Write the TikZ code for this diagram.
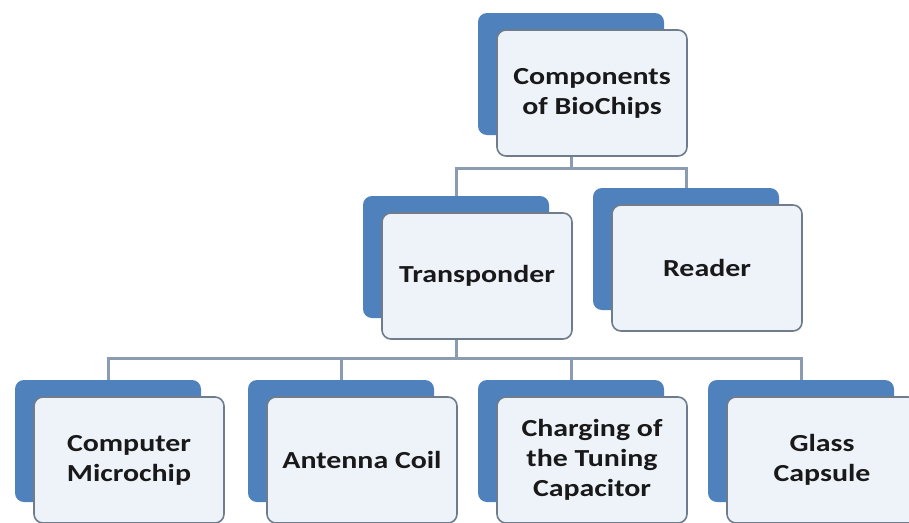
\documentclass[tikz,border=0pt]{standalone}
\usepackage{fontspec}
\setmainfont{Carlito}[FakeStretch=1.22]
\usetikzlibrary{backgrounds}
\definecolor{smartblue}{HTML}{4F81BD}
\definecolor{boxfill}{HTML}{EEF3FA}
\definecolor{boxline}{HTML}{6E7C8C}
\definecolor{linkgray}{HTML}{8A9BB2}
\tikzset{
  back/.style={fill=smartblue, rounded corners=9pt, minimum width=186pt, minimum height=122pt, inner sep=0pt},
  front/.style={draw=boxline, line width=1.6pt, fill=boxfill, rounded corners=9pt, minimum width=190pt,
    minimum height=126pt, inner sep=0pt, align=center, text=black!90,
    font=\bfseries\fontsize{24.5}{30}\selectfont},
  link/.style={draw=linkgray, line width=3pt}
}
\begin{document}
\begin{tikzpicture}[x=1pt,y=-1pt]
  \useasboundingbox (0,0) rectangle (909,522);
  % blue back cards
  \node[back] (bTop) at (571,74) {};
  \node[back] (bTrans) at (456,257) {};
  \node[back] (bRead) at (686,249) {};
  \node[back] (bChip) at (108,441) {};
  \node[back] (bCoil) at (341,441) {};
  \node[back] (bCap) at (571,441) {};
  \node[back] (bGlass) at (801,441) {};
  % front cards
  \node[front] (top) at ([shift={(21,19)}]bTop.center) {Components\\of BioChips};
  \node[front] (trans) at ([shift={(21,19)}]bTrans.center) {Transponder};
  \node[front] (read) at ([shift={(21,19)}]bRead.center) {Reader};
  \node[front] (chip) at ([shift={(21,19)}]bChip.center) {Computer\\Microchip};
  \node[front] (coil) at ([shift={(21,19)}]bCoil.center) {Antenna Coil};
  \node[front] (cap) at ([shift={(21,19)}]bCap.center) {Charging of\\the Tuning\\Capacitor};
  \node[front] (glass) at ([shift={(21,19)}]bGlass.center) {Glass\\Capsule};
  % connectors
  \coordinate (bus1) at (0,168);
  \coordinate (bus2) at (0,358);
  \begin{scope}[on background layer]
    \fill[white] (0,0) rectangle (909,522);
    \draw[link] (bTop.center) -- (bTop.center |- bus1) -| (bTrans.north);
    \draw[link] (bTop.center |- bus1) -| (bRead.north);
    \draw[link] (bTrans.center) -- (bTrans.center |- bus2);
    \draw[link] (bChip.north) -- (bChip.north |- bus2) -- (bGlass.north |- bus2) -- (bGlass.north);
    \foreach \n in {bCoil,bCap}
      \draw[link] (\n.north) -- (\n.north |- bus2);
  \end{scope}
\end{tikzpicture}
\end{document}
